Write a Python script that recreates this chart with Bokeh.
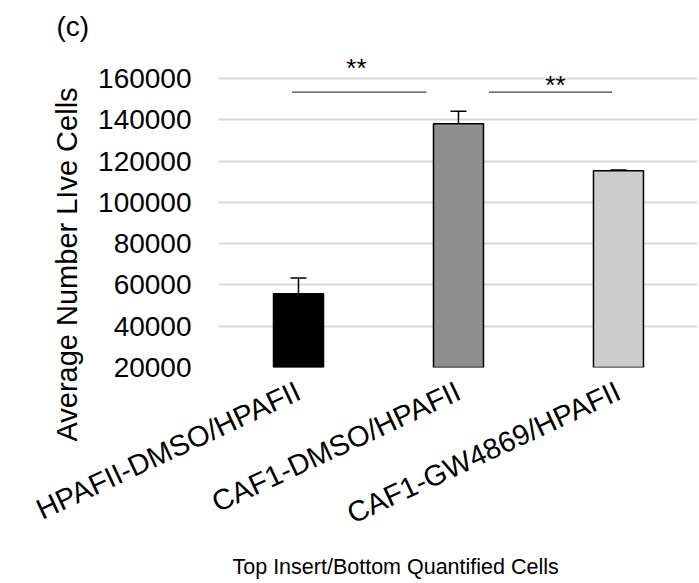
import math
from bokeh.plotting import figure
from bokeh.models import (Range1d, FixedTicker, Label, Whisker, ColumnDataSource, TeeHead,
                          Title, NumeralTickFormatter)
from bokeh.embed import file_html
from bokeh.resources import INLINE

# ---- data ----
categories = ["HPAFII-DMSO/HPAFII", "CAF1-DMSO/HPAFII", "CAF1-GW4869/HPAFII"]
means = [55700, 138100, 115300]
errors = [7600, 6000, 300]
colors = ["#000000", "#8f8f8f", "#cccccc"]
y_ticks = [20000, 40000, 60000, 80000, 100000, 120000, 140000, 160000]
y_min = 20000
sig_x0 = [0.46, 1.69]
sig_x1 = [1.30, 2.46]
sig_y = [153400, 153400]
sig_text = ["**", "**"]
sig_text_x = [0.8625, 2.106]
sig_text_y = [164800, 156900]
y_title = "Average Number LIve Cells"
x_title = "Top Insert/Bottom Quantified Cells"
panel_tag = "(c)"

FONT = "Liberation Sans"

xs = [i + 0.5 for i in range(len(categories))]

p = figure(width=699, height=583, output_backend="svg", toolbar_location=None,
           x_range=Range1d(0, 2.994), y_range=Range1d(y_min, 174483),
           min_border_left=218, min_border_right=2, min_border_top=48,
           min_border_bottom=215)
p.outline_line_color = None
p.background_fill_color = "white"
p.border_fill_color = "white"

# panel tag as title
p.title.text = panel_tag
p.title.align = "left"
p.title.offset = -162
p.title.text_font = FONT
p.title.text_font_size = "28px"
p.title.text_font_style = "normal"
p.title.text_color = "black"
p.title.standoff = 14

# x axis with rotated category labels
p.xaxis.ticker = FixedTicker(ticks=xs)
p.xaxis.major_label_overrides = {x: c for x, c in zip(xs, categories)}
p.xaxis.major_label_orientation = math.radians(25)
p.xaxis.major_label_standoff = 22
p.xaxis.major_label_text_font = FONT
p.xaxis.major_label_text_font_size = "29px"
p.xaxis.major_label_text_color = "#000000"
p.xaxis.axis_line_color = None
p.xaxis.major_tick_line_color = None
p.xaxis.minor_tick_line_color = None
p.xaxis.major_tick_in = 0
p.xaxis.major_tick_out = 0
p.xgrid.grid_line_color = None

# y axis
p.yaxis.ticker = FixedTicker(ticks=y_ticks)
p.yaxis.formatter = NumeralTickFormatter(format="0")
p.ygrid.ticker = FixedTicker(ticks=y_ticks)
p.ygrid.grid_line_color = "#d9d9d9"
p.ygrid.grid_line_width = 2
p.yaxis.axis_line_color = None
p.yaxis.major_tick_line_color = None
p.yaxis.minor_tick_line_color = None
p.yaxis.major_tick_in = 0
p.yaxis.major_tick_out = 0
p.yaxis.major_label_standoff = 27
p.yaxis.major_label_text_font = FONT
p.yaxis.major_label_text_font_size = "28px"
p.yaxis.major_label_text_color = "#000000"

# axis titles
p.add_layout(Title(text=y_title, align="left", offset=-74, standoff=26,
                   text_font=FONT, text_font_size="29px", text_font_style="normal",
                   text_color="black"), "left")
p.add_layout(Title(text=x_title, align="left", offset=14, standoff=10,
                   text_font=FONT, text_font_size="21.5px", text_font_style="normal",
                   text_color="black"), "below")

src = ColumnDataSource(dict(x=xs, top=means, color=colors,
                            upper=[m + e for m, e in zip(means, errors)],
                            lower=[m - e for m, e in zip(means, errors)]))
p.vbar(x="x", top="top", bottom=y_min, width=0.3125, fill_color="color",
       line_color="black", line_width=1.5, source=src)

w = Whisker(base="x", upper="upper", lower="lower", source=src,
            line_color="black", line_width=1.5,
            upper_head=TeeHead(size=16, line_color="black", line_width=1.5),
            lower_head=TeeHead(size=16, line_color="black", line_width=1.5))
p.add_layout(w)

p.segment(x0=sig_x0, y0=sig_y, x1=sig_x1, y1=sig_y, line_color="#404040", line_width=1.2)
for tx, ty, t in zip(sig_text_x, sig_text_y, sig_text):
    p.add_layout(Label(x=tx, y=ty, text=t, text_align="center", text_baseline="alphabetic",
                       text_font=FONT, text_font_size="26px", text_color="black"))

open("out.html", "w").write(file_html(p, INLINE))
